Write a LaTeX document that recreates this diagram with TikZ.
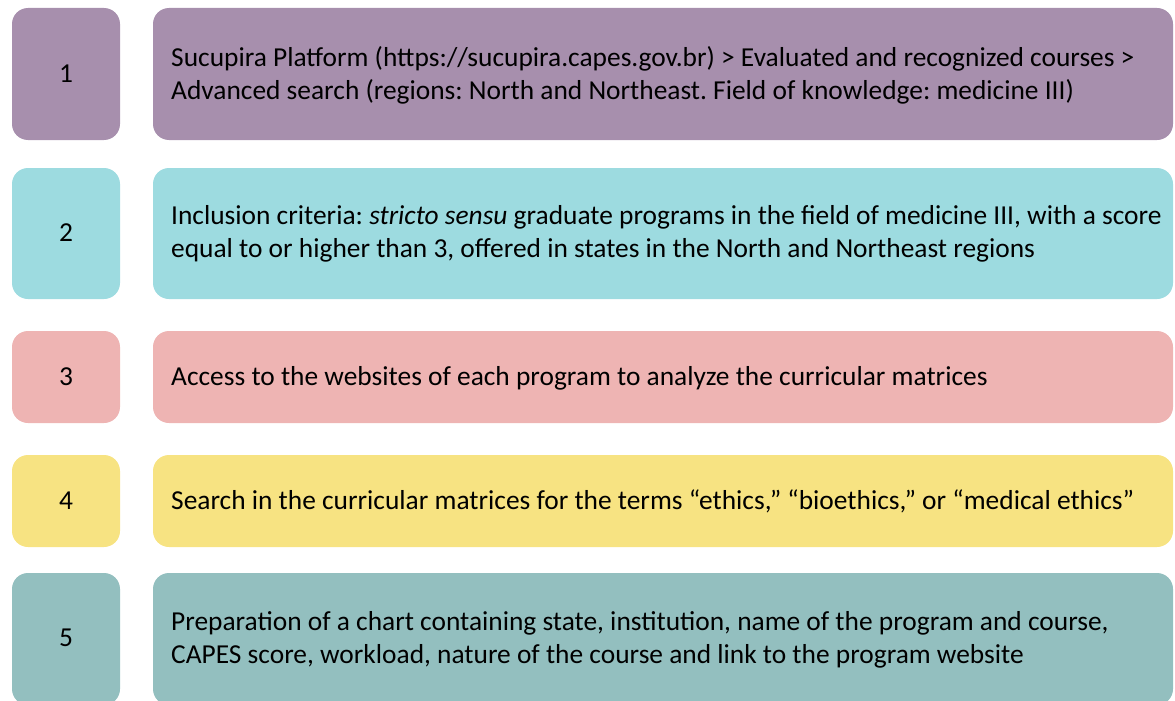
\documentclass[tikz,border=0pt]{standalone}
\usepackage{fontspec}
\setmainfont{Carlito}
\frenchspacing
\begin{document}
\begin{tikzpicture}[x=1pt,y=-1pt,
  numtxt/.style={inner sep=0pt, font=\fontsize{27.4}{33}\selectfont},
  txt/.style={anchor=west, inner sep=0pt, align=left, font=\fontsize{27.4}{33}\selectfont},
]
\definecolor{cone}{HTML}{A78FAD}
\definecolor{ctwo}{HTML}{9DDBE0}
\definecolor{cthree}{HTML}{EEB4B3}
\definecolor{cfour}{HTML}{F7E382}
\definecolor{cfive}{HTML}{93BFBF}
\useasboundingbox (0,0) rectangle (1175,701);
\clip (0,0) rectangle (1175,701);
% the number tiles and the step bars
\foreach \top/\bot/\c in {8/140/cone, 168/299/ctwo, 331/423/cthree, 455/547/cfour, 573/705/cfive}{
  \fill[\c, rounded corners=16pt] (12,\top) rectangle (120,\bot);
  \fill[\c, rounded corners=16pt] (153,\top) rectangle (1173,\bot);
}
\node[numtxt] (n1) at (66,74) {1};
\node[numtxt] (n2) at (66,233) {2};
\node[numtxt] (n3) at (66,377) {3};
\node[numtxt] (n4) at (66,501) {4};
\node[numtxt] (n5) at (66,638) {5};
\node[txt] (t1) at (171,75) {Sucupira Platform (https://sucupira.capes.gov.br) > Evaluated and recognized courses >\\Advanced search (regions: North and Northeast. Field of knowledge: medicine III)};
\node[txt] (t2) at (171,234) {Inclusion criteria: \textit{stricto sensu} graduate programs in the field of medicine III, with a score\\equal to or higher than 3, offered in states in the North and Northeast regions};
\node[txt] (t3) at (171,378) {Access to the websites of each program to analyze the curricular matrices};
\node[txt] (t4) at (171,501) {Search in the curricular matrices for the terms “ethics,” “bioethics,” or “medical ethics”};
\node[txt] (t5) at (171,640) {Preparation of a chart containing state, institution, name of the program and course,\\CAPES score, workload, nature of the course and link to the program website};
\end{tikzpicture}
\end{document}
